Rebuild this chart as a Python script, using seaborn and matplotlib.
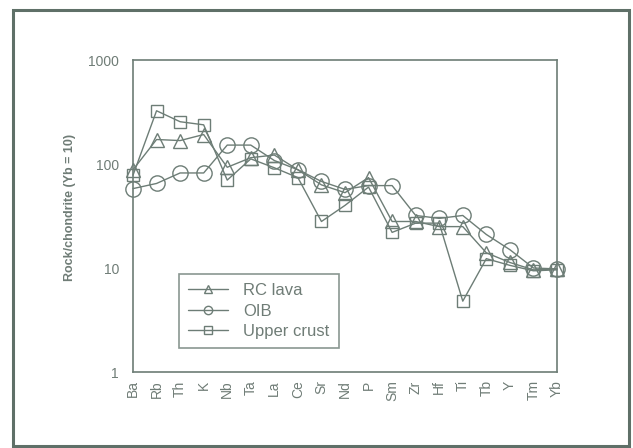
import matplotlib
matplotlib.use("Agg")
import matplotlib.pyplot as plt
import seaborn as sns
import pandas as pd
from matplotlib.patches import Rectangle
from matplotlib.lines import Line2D
from matplotlib.ticker import FixedLocator, NullLocator

elements = ["Ba", "Rb", "Th", "K", "Nb", "Ta", "La", "Ce", "Sr", "Nd",
            "P", "Sm", "Zr", "Hf", "Ti", "Tb", "Y", "Tm", "Yb"]
rc_lava = [88, 172, 168, 192, 93, 115, 122, 88, 63, 53,
           74, 28, 28, 25, 25, 14, 11.3, 9.6, 9.8]
oib = [58, 65, 82, 82, 152, 152, 108, 88, 68, 57,
       62, 62, 32, 30, 32, 21, 15, 10.0, 9.8]
upper_crust = [78, 325, 255, 238, 70, 112, 92, 74, 28, 40,
               60, 22, 27, 27, 4.8, 12.3, 10.6, 9.4, 9.6]
series_names = ["RC lava", "OIB", "Upper crust"]
y_ticks = [1, 10, 100, 1000]

frames = []
for name, vals in zip(series_names, [rc_lava, oib, upper_crust]):
    frames.append(pd.DataFrame({"pos": range(len(elements)),
                                "element": elements,
                                "value": vals,
                                "series": name}))
df = pd.concat(frames, ignore_index=True)

sns.set_style("white")
plt.rcParams["font.family"] = ["Liberation Sans", "DejaVu Sans"]

col = "#6d7d76"
txt = "#6f7c76"

fig = plt.figure(figsize=(6.33, 4.48), dpi=100)
fig.patch.set_facecolor("white")
fig.patches.append(Rectangle((13 / 633, 1 - 446 / 448), (629 - 13) / 633, (446 - 10) / 448,
                             transform=fig.transFigure, fill=False,
                             edgecolor="#5f7068", linewidth=2.2))

ax = fig.add_axes([133 / 633, 1 - 372 / 448, (557 - 133) / 633, (372 - 60) / 448])

styles = {"RC lava": ("^", 10), "OIB": ("o", 11), "Upper crust": ("s", 8.5)}
for name in series_names:
    sub = df[df["series"] == name]
    m, ms = styles[name]
    sns.lineplot(data=sub, x="pos", y="value", ax=ax, sort=False,
                 color=col, linewidth=1.0, marker=m, markersize=ms,
                 markerfacecolor="none", markeredgecolor=col,
                 markeredgewidth=1.0, label=name, clip_on=False,
                 legend=False)

ax.set_yscale("log")
ax.set_ylim(1, 1000)
ax.set_xlim(0, len(elements) - 1)
ax.yaxis.set_major_locator(FixedLocator(y_ticks))
ax.yaxis.set_minor_locator(NullLocator())
ax.set_yticklabels([str(t) for t in y_ticks], color=txt, fontsize=10)
ax.set_xticks(range(len(elements)))
ax.set_xticklabels(elements, rotation=90, color=txt, fontsize=10)
ax.tick_params(axis="both", which="major", direction="out", length=3,
               width=1, color=col, pad=3)
ax.tick_params(axis="y", length=0, pad=10)
for s in ax.spines.values():
    s.set_color(col)
    s.set_linewidth(1.2)
ax.set_xlabel("")
ax.set_ylabel("Rock/chondrite (Yb = 10)", color=txt, fontsize=9,
              fontweight="bold")
ax.yaxis.set_label_coords((76 - 133) / 424, (372 - 207) / 312)

handles = [Line2D([], [], color=col, linewidth=1.0, marker=styles[n][0],
                  markersize=6, markerfacecolor="none", markeredgecolor=col)
           for n in series_names]
leg = ax.legend(handles, series_names, loc="upper left",
                bbox_to_anchor=((179 - 133) / 424, (372 - 274) / 312),
                frameon=True, fancybox=False, fontsize=12,
                handlelength=2.4, handletextpad=0.9, borderpad=0.55,
                labelspacing=0.32, borderaxespad=0)
leg.get_frame().set_edgecolor(col)
leg.get_frame().set_linewidth(1.2)
for t in leg.get_texts():
    t.set_color(txt)

fig.savefig("out.png", dpi=100, facecolor="white")
